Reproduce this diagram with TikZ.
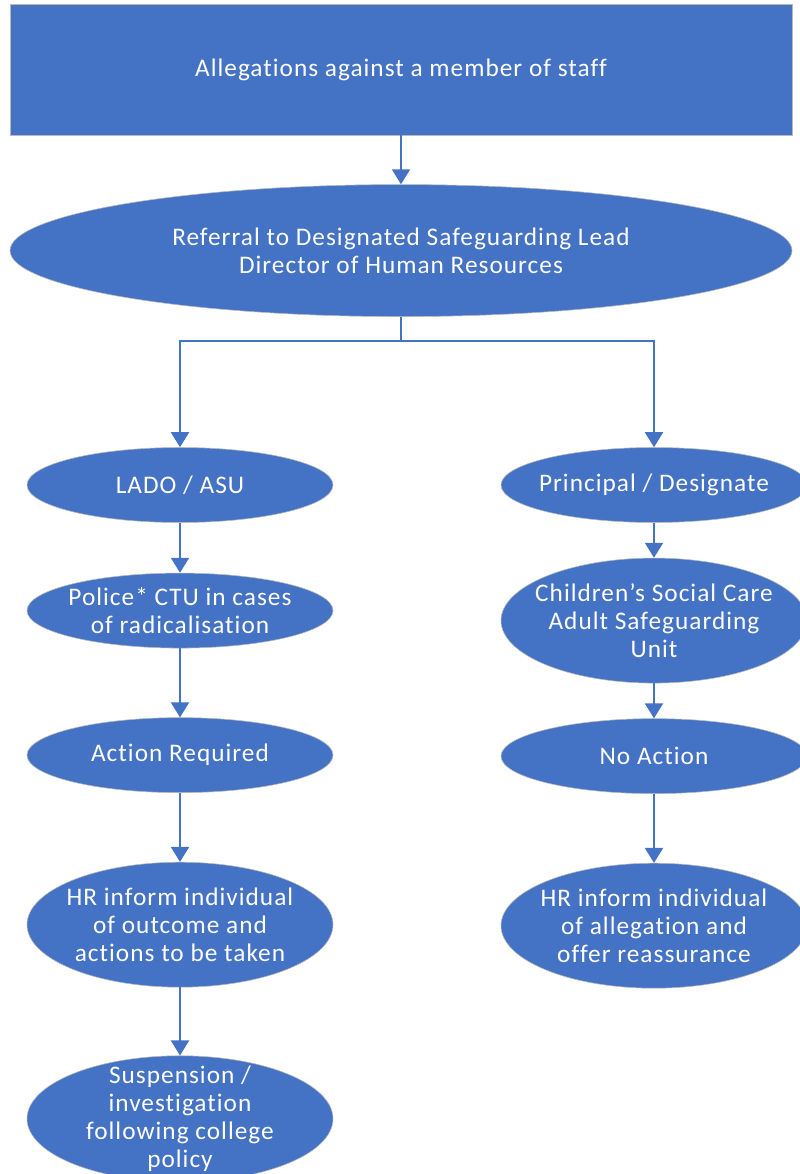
\documentclass[tikz,border=0pt]{standalone}
\usepackage{fontspec}
\setmainfont{Carlito}[LetterSpace=4, Ligatures=NoCommon]
\usetikzlibrary{positioning,shapes.geometric,arrows.meta}
\definecolor{officeblue}{HTML}{4472C4}

\begin{document}
\begin{tikzpicture}[boxnode/.style={rectangle, fill=officeblue, draw=gray!55, line width=0.4pt, minimum width=19.55cm, minimum height=3.275cm, text=white, font=\fontsize{18}{20}\selectfont},
                    ovalnode/.style={ellipse, fill=officeblue, draw=gray!55, line width=0.4pt, inner xsep=-1.2cm, inner ysep=-0.4cm, minimum width=7.65cm, minimum height=1.875cm, text=white, align=center, font=\fontsize{18}{20}\selectfont},
                    tallnode/.style={ovalnode, minimum height=3.125cm},
                    flow/.style={officeblue, line width=1.4pt, -{Triangle[length=0.375cm, width=0.45cm]}},
                    node distance=1.725cm]
                    \useasboundingbox (0,0) rectangle (20,-29.35);
                    \node[boxnode] (alleg) at (10.025,-1.7375) {Allegations against a member of staff};
                    \node[ovalnode, minimum width=19.55cm, minimum height=3.3cm] (refer) [below=1.225cm of alleg] {Referral to Designated Safeguarding Lead\\Director of Human Resources};
                    \node[ovalnode] (lado) at (4.5,-12.125) {LADO / ASU};
                    \node[ovalnode] (police) [below=1.25cm of lado] {Police* CTU in cases\\of radicalisation};
                    \node[ovalnode] (action) [below= of police] {Action Required};
                    \node[tallnode] (hrleft) [below= of action] {HR inform individual\\of outcome and\\actions to be taken};
                    \node[tallnode, minimum height=3.15cm] (susp) [below=1.7cm of hrleft] {Suspension /\\investigation\\following college\\policy};
                    \node[ovalnode] (principal) at (16.35,-12.125) {Principal / Designate};
                    \node[tallnode] (social) [below=0.875cm of principal] {Children’s Social Care\\Adult Safeguarding\\Unit};
                    \node[ovalnode] (noaction) [below=0.875cm of social] {No Action};
                    \node[tallnode] (hrright) [below= of noaction] {HR inform individual\\of allegation and\\offer reassurance};

                    \draw[flow] (alleg.south) -- (refer.north);
                    \draw[flow] (refer.south) -- ++(0,-0.6) -| (lado.north);
                    \draw[flow] (refer.south) -- ++(0,-0.6) -| (principal.north);
                    \draw[flow] (lado) -- (police);
                    \draw[flow] (police) -- (action);
                    \draw[flow] (action) -- (hrleft);
                    \draw[flow] (hrleft) -- (susp);
                    \draw[flow] (principal) -- (social);
                    \draw[flow] (social) -- (noaction);
                    \draw[flow] (noaction) -- (hrright);
                    \end{tikzpicture}
\end{document}
